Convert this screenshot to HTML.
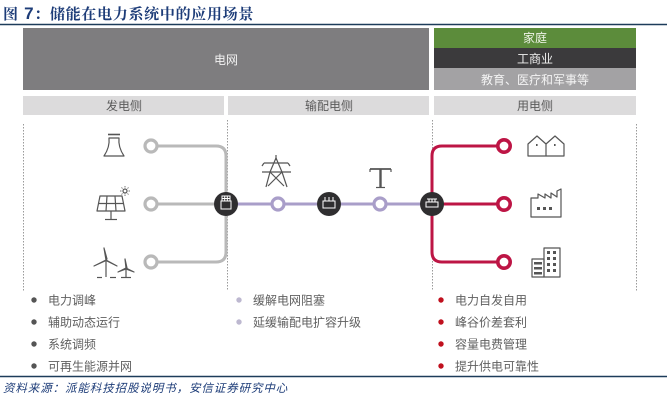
<!DOCTYPE html>
<html><head><meta charset="utf-8"><style>
html,body{margin:0;padding:0;background:#fff;}
svg{display:block;}
text{font-family:"Liberation Sans","Noto Sans CJK SC",sans-serif;}
</style></head><body>
<svg width="672" height="400" viewBox="0 0 672 400" xmlns="http://www.w3.org/2000/svg">
<rect width="672" height="400" fill="#fff"/>
<!-- title -->
<text x="3" y="19" font-size="15" font-weight="bold" fill="#1d3c78" style="font-family:'Liberation Serif','Noto Serif CJK SC',serif;letter-spacing:0.7px">图<tspan font-family="Liberation Sans" font-size="17"> 7</tspan>：储能在电力系统中的应用场景</text>
<line x1="0" y1="24.5" x2="667" y2="24.5" stroke="#1d3c5a" stroke-width="1.5"/>

<!-- header boxes -->
<rect x="23" y="28" width="406" height="62" fill="#7e7d7f"/>
<text x="226" y="64" font-size="12" fill="#f2f2f2" text-anchor="middle">电网</text>
<rect x="434" y="28" width="202" height="20" fill="#5c8c3b"/>
<text x="535" y="42" font-size="12" fill="#eef3e6" text-anchor="middle">家庭</text>
<rect x="434" y="48" width="202" height="20" fill="#3b3a3c"/>
<text x="535" y="63" font-size="12" fill="#f0f0f0" text-anchor="middle">工商业</text>
<rect x="434" y="68" width="202" height="22" fill="#a3a2a4"/>
<text x="535" y="84" font-size="12" fill="#f4f4f4" text-anchor="middle">教育、医疗和军事等</text>

<rect x="23" y="96" width="201" height="19" fill="#dcdbdc"/>
<text x="124" y="110" font-size="12" fill="#5a5a5a" text-anchor="middle">发电侧</text>
<rect x="228" y="96" width="201" height="19" fill="#dcdbdc"/>
<text x="329" y="110" font-size="12" fill="#5a5a5a" text-anchor="middle">输配电侧</text>
<rect x="434" y="96" width="202" height="19" fill="#dcdbdc"/>
<text x="535" y="110" font-size="12" fill="#5a5a5a" text-anchor="middle">用电侧</text>

<!-- dotted separators -->
<g stroke="#9a9a9a" stroke-width="1" stroke-dasharray="1.5 1.5">
<line x1="23.5" y1="124" x2="23.5" y2="291"/>
<line x1="227.5" y1="120" x2="227.5" y2="291"/>
<line x1="432.5" y1="120" x2="432.5" y2="291"/>
<line x1="636.5" y1="124" x2="636.5" y2="291"/>
</g>

<!-- gray generation lines -->
<g fill="none" stroke="#b9b9b9" stroke-width="3">
<path d="M151 146 H216 Q226 146 226 156 V252 Q226 262 216 262 H151"/>
<line x1="151" y1="204" x2="226" y2="204"/>
</g>
<!-- purple line -->
<line x1="226" y1="204" x2="432" y2="204" stroke="#a99ec9" stroke-width="3"/>
<!-- red lines -->
<g fill="none" stroke="#bd1545" stroke-width="3">
<path d="M504 146 H442 Q432 146 432 156 V252 Q432 262 442 262 H504"/>
<line x1="432" y1="204" x2="504" y2="204"/>
</g>

<!-- rings -->
<g fill="#fff" stroke="#b9b9b9" stroke-width="3.2">
<circle cx="151" cy="146" r="6"/>
<circle cx="151" cy="204" r="6"/>
<circle cx="151" cy="262" r="6"/>
</g>
<g fill="#fff" stroke="#a99ec9" stroke-width="3.2">
<circle cx="278" cy="204" r="6"/>
<circle cx="380" cy="204" r="6"/>
</g>
<g fill="#fff" stroke="#bd1545" stroke-width="3.6">
<circle cx="504" cy="146" r="6.2"/>
<circle cx="504" cy="204" r="6.2"/>
<circle cx="504" cy="262" r="6.2"/>
</g>

<!-- battery nodes -->
<g>
<circle cx="226" cy="204" r="12" fill="#2f2e30"/>
<g fill="none" stroke="#fff" stroke-width="1">
<rect x="221" y="201" width="10" height="8"/>
<rect x="222" y="196" width="8" height="5"/>
<line x1="224.7" y1="196" x2="224.7" y2="201"/><line x1="227.3" y1="196" x2="227.3" y2="201"/>
<line x1="222" y1="198.5" x2="230" y2="198.5"/>
</g>
<circle cx="329" cy="204" r="12" fill="#2f2e30"/>
<g fill="none" stroke="#fff" stroke-width="1">
<rect x="323" y="201" width="12" height="7"/>
<line x1="325" y1="197" x2="325" y2="201"/><line x1="329" y1="197" x2="329" y2="201"/><line x1="333" y1="197" x2="333" y2="201"/>
</g>
<circle cx="432" cy="204" r="12" fill="#2f2e30"/>
<g fill="none" stroke="#fff" stroke-width="1">
<rect x="426" y="202" width="12" height="5"/>
<line x1="427" y1="199" x2="437" y2="199"/>
<line x1="429" y1="199" x2="429" y2="202"/><line x1="432" y1="199" x2="432" y2="202"/><line x1="435" y1="199" x2="435" y2="202"/>
</g>
</g>

<!-- icons -->
<g fill="none" stroke="#555" stroke-width="1.2" stroke-linejoin="round">
<!-- cooling tower -->
<line x1="108" y1="134.5" x2="120" y2="134.5" stroke-width="1.6"/>
<path d="M109 138 H119 Q118 147 124 156 H104 Q110 147 109 138 Z"/>
<!-- solar panel -->
<path d="M100 196 H122 L125 211 H97 Z"/>
<line x1="98.5" y1="203.5" x2="123.5" y2="203.5"/>
<line x1="107" y1="196" x2="106" y2="211"/>
<line x1="115" y1="196" x2="116" y2="211"/>
<line x1="111" y1="211" x2="111" y2="219"/>
<line x1="105" y1="219.5" x2="117" y2="219.5"/>
<circle cx="125" cy="191" r="2"/>
<g stroke-width="0.8">
<line x1="125" y1="186" x2="125" y2="187.5"/><line x1="125" y1="194.5" x2="125" y2="196"/>
<line x1="120" y1="191" x2="121.5" y2="191"/><line x1="128.5" y1="191" x2="130" y2="191"/>
<line x1="121.5" y1="187.5" x2="122.5" y2="188.5"/><line x1="127.5" y1="193.5" x2="128.5" y2="194.5"/>
<line x1="128.5" y1="187.5" x2="127.5" y2="188.5"/><line x1="121.5" y1="194.5" x2="122.5" y2="193.5"/>
</g>
<!-- wind turbines -->
<line x1="106" y1="261" x2="106" y2="277"/>
<path d="M106 260 L104 248 L107 259 Z" fill="#444"/>
<path d="M106 260 L94 266 L105 261 Z" fill="#444"/>
<path d="M106 260 L117 266 L107 261 Z" fill="#444"/>
<line x1="126" y1="269" x2="126" y2="278"/>
<path d="M126 268 L125 259 L127 268 Z" fill="#444"/>
<path d="M126 268 L118 272 L126 269 Z" fill="#444"/>
<path d="M126 268 L134 272 L126 269 Z" fill="#444"/>
<line x1="97" y1="277.5" x2="102" y2="277.5"/><line x1="110" y1="277.5" x2="116" y2="277.5"/><line x1="121" y1="277.5" x2="131" y2="277.5"/>
<!-- pylon -->
<line x1="276" y1="155" x2="276" y2="160"/>
<line x1="264" y1="163" x2="288" y2="163"/>
<line x1="262" y1="172" x2="291" y2="172"/>
<path d="M276 158 L270 172 L266 187 M276 158 L282 172 L287 187"/>
<path d="M270 172 L284 186 M282 172 L268 186"/>
<line x1="264" y1="163" x2="262" y2="166"/><line x1="288" y1="163" x2="290" y2="166"/>
<!-- T pole -->
<line x1="370" y1="169" x2="391" y2="169" stroke-width="1.8"/>
<line x1="380.5" y1="169" x2="380.5" y2="187" stroke-width="2.4"/>
<line x1="376" y1="187.5" x2="385" y2="187.5" stroke-width="1.2"/>
<line x1="370" y1="169" x2="370" y2="172"/><line x1="391" y1="169" x2="391" y2="172"/>
<!-- houses -->
<path d="M528 144 L537 136 L546 144 V156 H528 Z"/>
<path d="M546 144 L555 136 L564 144 V156 H546"/>
<rect x="536" y="144" width="1.6" height="2" fill="#555" stroke="none"/>
<rect x="554" y="144" width="1.6" height="2" fill="#555" stroke="none"/>
<!-- factory -->
<path d="M531 198 V217 H561 V189 L557 191 V197 L551 193 V198 L545 194 V198 L538 194 V198 Z"/>
<rect x="537" y="207" width="3" height="3" fill="#555" stroke="none"/>
<rect x="543" y="207" width="3" height="3" fill="#555" stroke="none"/>
<rect x="549" y="207" width="3" height="3" fill="#555" stroke="none"/>
<!-- building -->
<rect x="532" y="259" width="12" height="18"/>
<rect x="544" y="248" width="16" height="29"/>
</g>
<g fill="#555">
<rect x="534" y="262" width="8" height="2.5"/><rect x="534" y="267" width="8" height="2.5"/><rect x="534" y="272" width="8" height="2.5"/>
<rect x="547" y="251" width="3" height="3"/><rect x="553" y="251" width="3" height="3"/>
<rect x="547" y="257" width="3" height="3"/><rect x="553" y="257" width="3" height="3"/>
<rect x="547" y="263" width="3" height="3"/><rect x="553" y="263" width="3" height="3"/>
<rect x="547" y="269" width="3" height="3"/><rect x="553" y="269" width="3" height="3"/>
</g>

<!-- bullets -->
<g font-size="12" fill="#606060">
<circle cx="34" cy="300" r="2.7" fill="#555"/><text x="48" y="304.5">电力调峰</text>
<circle cx="34" cy="322" r="2.7" fill="#555"/><text x="48" y="326.5">辅助动态运行</text>
<circle cx="34" cy="344" r="2.7" fill="#555"/><text x="48" y="348.5">系统调频</text>
<circle cx="34" cy="366" r="2.7" fill="#555"/><text x="48" y="370.5">可再生能源并网</text>
<circle cx="239" cy="300" r="2.7" fill="#bdb8d0"/><text x="253" y="304.5">缓解电网阻塞</text>
<circle cx="239" cy="322" r="2.7" fill="#bdb8d0"/><text x="253" y="326.5">延缓输配电扩容升级</text>
<circle cx="441" cy="300" r="2.7" fill="#c0101e"/><text x="455" y="304.5">电力自发自用</text>
<circle cx="441" cy="322" r="2.7" fill="#c0101e"/><text x="455" y="326.5">峰谷价差套利</text>
<circle cx="441" cy="344" r="2.7" fill="#c0101e"/><text x="455" y="348.5">容量电费管理</text>
<circle cx="441" cy="366" r="2.7" fill="#c0101e"/><text x="455" y="370.5">提升供电可靠性</text>
</g>

<!-- footer -->
<line x1="0" y1="376.5" x2="667" y2="376.5" stroke="#1d3c5a" stroke-width="1.5"/>
<text x="3" y="392" font-size="11.5" fill="#1d3c78" font-style="italic" style="letter-spacing:0.9px">资料来源：派能科技招股说明书，安信证券研究中心</text>
</svg>
</body></html>
